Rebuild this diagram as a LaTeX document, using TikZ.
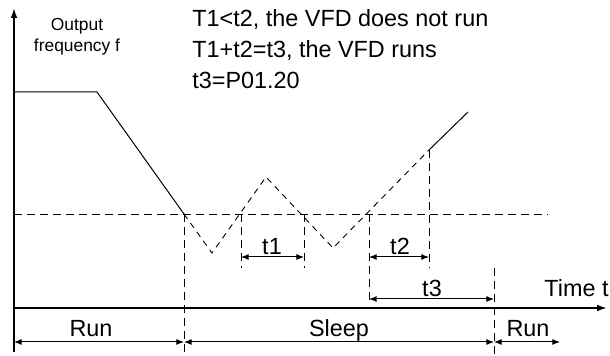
\documentclass[tikz,border=0pt]{standalone}
\usepackage{fontspec}
\setmainfont{Liberation Sans}
\usetikzlibrary{arrows.meta}

\begin{document}
\begin{tikzpicture}[x=0.5pt,y=-0.5pt,font=\fontsize{11.7}{13.5}\selectfont,
  axis/.style={line width=0.9pt,-{Latex[length=5pt,width=3.4pt]}},
  guide/.style={line width=0.45pt,dash pattern=on 4pt off 2.5pt},
  ramp/.style={line width=0.45pt,dash pattern=on 3pt off 2.5pt},
  span/.style={line width=0.5pt,{Latex[length=3.8pt,width=3pt]}-{Latex[length=3.8pt,width=3pt]}},
  lbl/.style={inner sep=0pt,anchor=base}]
\useasboundingbox (0,0) rectangle (610,356);
% axes
\coordinate (O) at (14,308);
\coordinate (ytop) at (14,8);
\coordinate (ybot) at (14,352);
\coordinate (xend) at (607,308);
\draw[axis] (ybot)--(ytop);
\draw[axis] (O)--(xend);
\node[lbl,anchor=base east] (tlabel) at (609,297) {Time t};
\node[font=\fontsize{8.7}{10.5}\selectfont,align=center] (flabel) at (77,37) {Output\\frequency f};
% notes
\node[lbl,anchor=base west] (note1) at (192,27) {T1<t2, the VFD does not run};
\node[lbl,anchor=base west] (note2) at (192,58) {T1+t2=t3, the VFD runs};
\node[lbl,anchor=base west] (note3) at (192,89) {t3=P01.20};
% frequency curve
\coordinate (f0) at (14,92);
\coordinate (f1) at (97,92);
\coordinate (a) at (184,214);
\coordinate (b1) at (212,253);
\coordinate (c) at (241,214);
\coordinate (p1) at (266,177);
\coordinate (d) at (304,214);
\coordinate (b2) at (333,248);
\coordinate (e) at (369,214);
\coordinate (g) at (429,150);
\coordinate (fend) at (468,112);
\draw[line width=0.5pt] (f0)--(f1)--(a);
\draw[ramp] (a)--(b1)--(p1)--(b2)--(g);
\draw[line width=0.5pt] (g)--(fend);
% wake level
\coordinate (w0) at (14,214);
\coordinate (w1) at (548,214);
\draw[guide] (w0)--(w1);
% guides
\coordinate (aa) at (184,356);
\coordinate (cc) at (241,268);
\coordinate (dd) at (304,268);
\coordinate (ee) at (369,305);
\coordinate (gg) at (429,268);
\coordinate (h0) at (494,268);
\coordinate (hh) at (494,356);
\draw[guide] (a)--(aa);
\draw[guide] (c)--(cc);
\draw[guide] (d)--(dd);
\draw[guide] (e)--(ee);
\draw[guide] (g)--(gg);
\draw[guide] (h0)--(hh);
% time spans
\coordinate (t1a) at (241,257);\coordinate (t1b) at (304,257);
\coordinate (t2a) at (369,257);\coordinate (t2b) at (429,257);
\coordinate (t3a) at (369,299);\coordinate (t3b) at (494,299);
\draw[span] (t1a)--(t1b);
\draw[span] (t2a)--(t2b);
\draw[span] (t3a)--(t3b);
\node[lbl] (t1) at (272,255) {t1};
\node[lbl] (t2) at (400,255) {t2};
\node[lbl] (t3) at (432,297) {t3};
% states
\coordinate (s0) at (14,342);\coordinate (s1) at (184,342);
\coordinate (s2) at (494,342);\coordinate (s3) at (560,342);
\draw[span] (s0)--(s1);
\draw[span] (s1)--(s2);
\draw[span] (s2)--(s3);
\node[lbl] (run1) at (91,337) {Run};
\node[lbl] (sleep) at (339,337) {Sleep};
\node[lbl] (run2) at (528,337) {Run};
\end{tikzpicture}
\end{document}
